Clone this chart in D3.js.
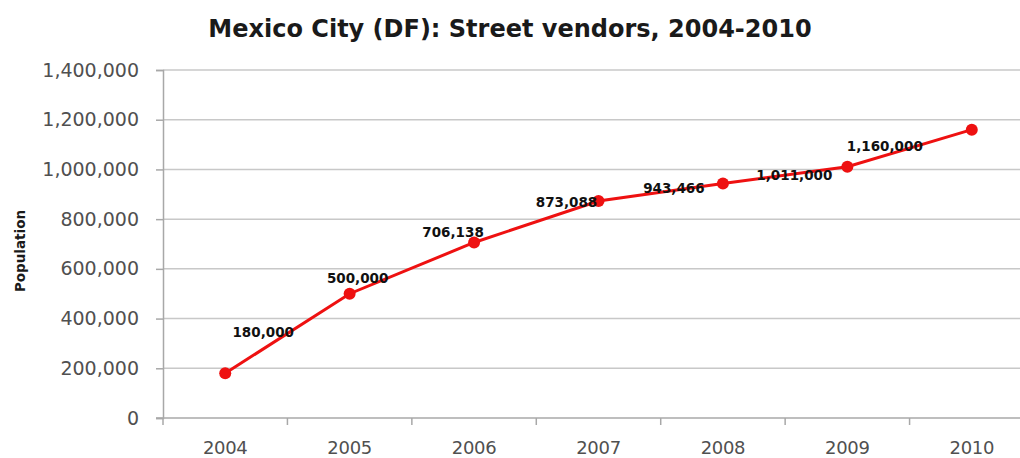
<!DOCTYPE html>
<html><head><meta charset="utf-8">
<script src="https://cdn.jsdelivr.net/npm/d3@7"></script>
<style>body{margin:0;background:#fff;}svg{display:block;}</style>
</head><body>
<svg id="c" width="1020" height="458"></svg>
<script>
const years = ["2004","2005","2006","2007","2008","2009","2010"];
const vendors = [180000, 500000, 706138, 873088, 943466, 1011000, 1160000];
const labels = ["180,000","500,000","706,138","873,088","943,466","1,011,000","1,160,000"];
const yTicks = [0,200000,400000,600000,800000,1000000,1200000,1400000];
// label offsets (layout only)
const labelOffsets = [[38,-41],[8,-16],[-21,-10],[-32,1],[-49,5],[-53,8],[-87,16]];

(function(){
const svg = d3.select("#c");
const pl = 163, pr = 1034, pt = 70, pb = 418;
const x = d3.scaleBand().domain(years).range([pl, pr]);
const y = d3.scaleLinear().domain([0,1400000]).range([pb, pt]);
const font = "'DejaVu Sans', Verdana, sans-serif";

svg.append("text").attr("x",510).attr("y",37).attr("text-anchor","middle")
  .attr("font-family",font).attr("font-weight","bold").attr("font-size",24)
  .attr("fill","#1a1a1a").text("Mexico City (DF): Street vendors, 2004-2010");

svg.append("g").selectAll("line").data(yTicks.slice(1)).join("line")
  .attr("x1",pl).attr("x2",1020).attr("y1",d=>y(d)).attr("y2",d=>y(d))
  .attr("stroke","#c8c8c8").attr("stroke-width",1.5);

const yAxis = svg.append("g").attr("transform",`translate(${pl},0)`)
  .call(d3.axisLeft(y).tickValues(yTicks).tickSize(7).tickPadding(17).tickFormat(d3.format(",")));
yAxis.select(".domain").attr("stroke","#a8a8a8").attr("stroke-width",1.5);
yAxis.selectAll(".tick line").attr("stroke","#a8a8a8").attr("stroke-width",1.5);
yAxis.selectAll("text").attr("font-family",font).attr("font-size",19).attr("fill","#505050");

const xAxis = svg.append("g").attr("transform",`translate(0,${pb})`)
  .call(d3.axisBottom(x).tickSize(0).tickPadding(23));
xAxis.select(".domain").remove();
svg.append("line").attr("x1",pl-7).attr("x2",1020).attr("y1",pb).attr("y2",pb)
  .attr("stroke","#a8a8a8").attr("stroke-width",1.5);
svg.append("g").selectAll("line").data(years).join("line")
  .attr("x1",d=>x(d)).attr("x2",d=>x(d)).attr("y1",pb).attr("y2",pb+7)
  .attr("stroke","#a8a8a8").attr("stroke-width",1.5);
xAxis.selectAll("text").attr("font-family",font).attr("font-size",18).attr("fill","#505050")
  .attr("letter-spacing",-0.3);

svg.append("text").attr("transform","translate(25,251) rotate(-90)").attr("text-anchor","middle")
  .attr("font-family",font).attr("font-weight","bold").attr("font-size",13.5).attr("fill","#1a1a1a")
  .text("Population");

const cx = d => x(d) + x.bandwidth()/2;
const line = d3.line().x((d,i)=>cx(years[i])).y(d=>y(d));
svg.append("path").datum(vendors).attr("d",line).attr("fill","none")
  .attr("stroke","#ee1111").attr("stroke-width",3);
svg.append("g").selectAll("circle").data(vendors).join("circle")
  .attr("cx",(d,i)=>cx(years[i])).attr("cy",d=>y(d)).attr("r",6).attr("fill","#ee1111");

svg.append("g").selectAll("text").data(labels).join("text")
  .attr("x",(d,i)=>cx(years[i])+labelOffsets[i][0])
  .attr("y",(d,i)=>y(vendors[i])+labelOffsets[i][1]+5)
  .attr("text-anchor","middle").attr("font-family",font).attr("font-weight","bold")
  .attr("font-size",13.5).attr("fill","#111").text(d=>d);
})();
</script>
</body></html>
